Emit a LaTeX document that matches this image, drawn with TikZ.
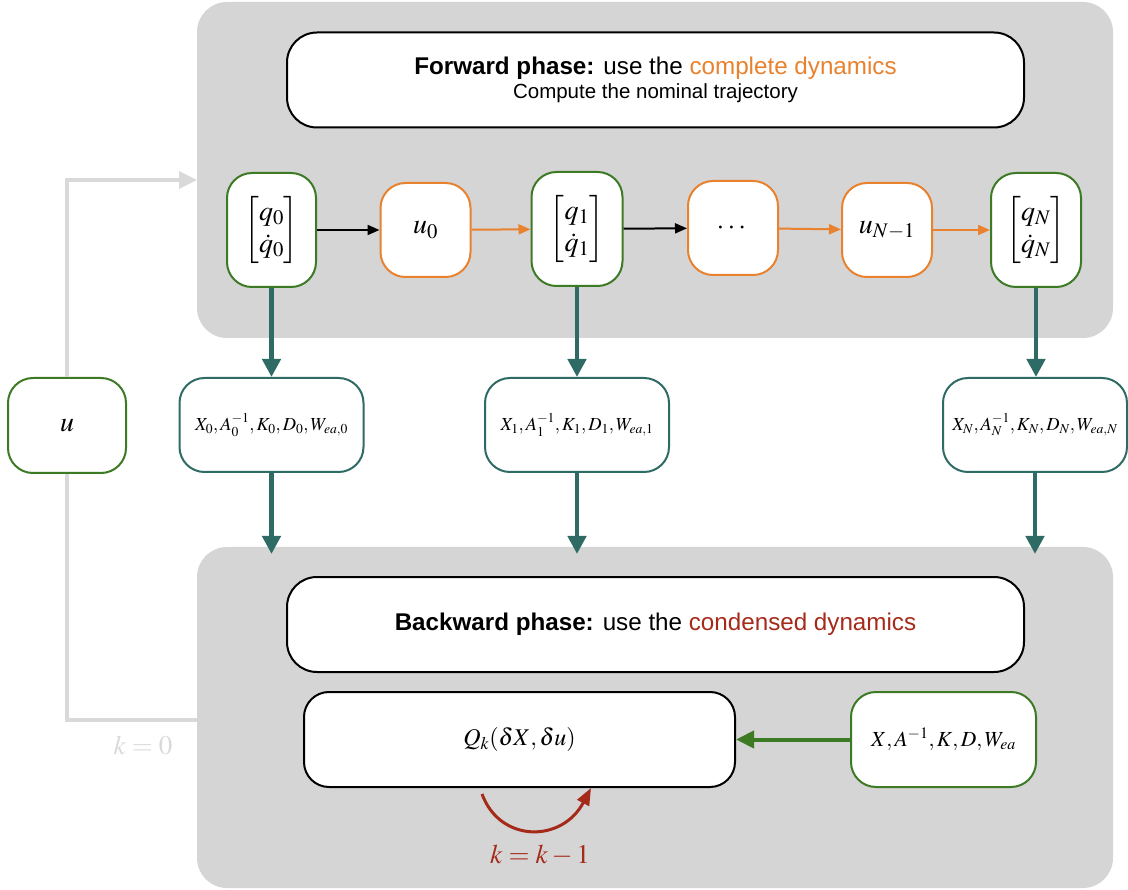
\documentclass[tikz,border=0pt]{standalone}
\usepackage{amsmath}
\usepackage{mathptmx}
\usepackage[no-math]{fontspec}
\setmainfont{Liberation Sans}
\usetikzlibrary{arrows.meta}
\definecolor{panel}{HTML}{D5D5D5}
\definecolor{grn}{HTML}{3C7A24}
\definecolor{org}{HTML}{E8822E}
\definecolor{tealc}{HTML}{2F6B65}
\definecolor{lgray}{HTML}{D9D9D9}
\definecolor{brick}{HTML}{A62A1A}
\tikzset{
  panelbox/.style={fill=panel, draw=none, rounded corners=30, inner sep=0},
  hdrbox/.style={fill=white, draw=black, line width=2, rounded corners=30, minimum width=737, minimum height=95, align=center, inner sep=0},
  gbox/.style={fill=white, draw=grn, line width=2, rounded corners=25, inner sep=0},
  obox/.style={fill=white, draw=org, line width=2, rounded corners=25, inner sep=0, minimum width=90, minimum height=94},
  tbox/.style={fill=white, draw=tealc, line width=2, rounded corners=25, inner sep=0, minimum width=184, minimum height=94},
  kbox/.style={fill=white, draw=black, line width=2, rounded corners=25, inner sep=0},
  mbig/.style={font=\fontsize{28}{32}\selectfont},
  msmall/.style={font=\fontsize{18.4}{22}\selectfont},
  blk/.style={draw=black, line width=2, -{Triangle[width=10,length=12]}},
  orng/.style={draw=org, line width=2, -{Triangle[width=10,length=12]}},
  tarr/.style={draw=tealc, line width=4.5, -{Triangle[width=18,length=18]}},
  garr/.style={draw=grn, line width=4, -{Triangle[width=17,length=18]}},
  lline/.style={draw=lgray, line width=3.5},
  rarr/.style={draw=brick, line width=3, -{Triangle[width=13,length=17]}}
}
\begin{document}
\begin{tikzpicture}[x=1pt,y=-1pt]
\useasboundingbox (0,0) rectangle (1128,890);
% panels
\node[panelbox, minimum width=916, minimum height=336] (top) at (655,170) {};
\node[panelbox, minimum width=916, minimum height=341] (bot) at (655,717.5) {};
% headers
\node[hdrbox] (fh) at (655.5,80) {{\fontsize{24.2}{24}\selectfont\textbf{Forward phase:} use the \textcolor{org}{complete dynamics}}\\[3pt]{\fontsize{20.5}{24}\selectfont Compute the nominal trajectory}};
\node[hdrbox, font=\fontsize{24.2}{24}\selectfont] (bh) at (655.5,624.5) {\textbf{Backward phase:} use the \textcolor{brick}{condensed dynamics}};
% forward row
\node[gbox, mbig, minimum width=89, minimum height=114] (q0) at (271.5,230) {$\begin{bmatrix} q_0\\ \dot q_0\end{bmatrix}$};
\node[obox, mbig] (u0) at (425.5,230) {$u_0$};
\node[gbox, mbig, minimum width=91, minimum height=114] (q1) at (577,229) {$\begin{bmatrix} q_1\\ \dot q_1\end{bmatrix}$};
\node[obox, mbig] (dots) at (733,228) {$\cdots$};
\node[obox, mbig] (uN1) at (887,230) {$u_{N-1}$};
\node[gbox, mbig, minimum width=90, minimum height=114] (qN) at (1036,230) {$\begin{bmatrix} q_N\\ \dot q_N\end{bmatrix}$};
\draw[blk] (q0) -- (u0);
\draw[orng] (u0) -- (q1);
\draw[blk] (q1) -- (dots);
\draw[orng] (dots) -- (uN1);
\draw[orng] (uN1) -- (qN);
% middle row
\node[gbox, mbig, minimum width=118, minimum height=95] (u) at (67,425.5) {$u$};
\node[tbox, msmall] (X0) at (271.5,425) {$X_0, A_0^{-1}, K_0, D_0, W_{ea,0}$};
\node[tbox, msmall] (X1) at (577,425) {$X_1, A_1^{-1}, K_1, D_1, W_{ea,1}$};
\node[tbox, msmall] (XN) at (1035,425) {$X_N, A_N^{-1}, K_N, D_N, W_{ea,N}$};
\draw[tarr] (q0.south) -- (X0.north);
\draw[tarr] (q1.south) -- (X1.north);
\draw[tarr] (qN.south) -- (qN.south |- XN.north);
\coordinate (b0) at (271.5,554);
\coordinate (b1) at (577,554);
\coordinate (bN) at (1035,554);
\draw[tarr] (X0.south) -- (b0);
\draw[tarr] (X1.south) -- (b1);
\draw[tarr] (XN.south) -- (bN);
% loop
\coordinate (inT) at (197,180);
\coordinate (inB) at (197,720);
\draw[lline, -{Triangle[width=17,length=18]}] (u.north) |- (inT);
\draw[lline] (u.south) |- (inB);
\node[font=\fontsize{27}{30}\selectfont, text=lgray] (k0) at (143,745) {$k=0$};
% backward row
\node[kbox, font=\fontsize{24}{30}\selectfont, minimum width=431, minimum height=95] (Q) at (519.5,739.5) {$Q_k(\delta X, \delta u)$};
\node[gbox, font=\fontsize{21.5}{24}\selectfont, minimum width=185, minimum height=95] (XW) at (943.5,739.5) {$X, A^{-1}, K, D, W_{ea}$};
\draw[garr] (XW) -- (Q);
\coordinate (ks) at (482,794);
\coordinate (ke) at (591,788);
\draw[rarr] (ks) .. controls (500,843) and (562,843) .. (ke);
\node[font=\fontsize{27}{30}\selectfont, text=brick] (kk) at (540,855) {$k=k-1$};
\end{tikzpicture}
\end{document}
